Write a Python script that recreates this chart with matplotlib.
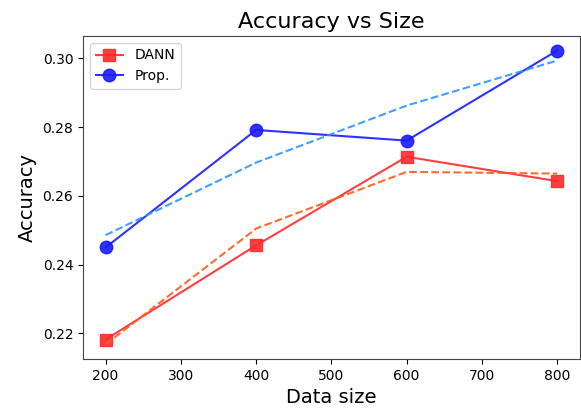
import numpy as np
import matplotlib
matplotlib.use("Agg")
import matplotlib.pyplot as plt

sizes = [200, 400, 600, 800]
dann_acc = [0.2182, 0.2456, 0.2714, 0.2643]
prop_acc = [0.2450, 0.2792, 0.2761, 0.3023]
dann_fit = [0.2168, 0.2505, 0.2670, 0.2665]
prop_fit = [0.2486, 0.2697, 0.2863, 0.2994]

fig = plt.figure(figsize=(5.81, 4.08), dpi=100)
ax = fig.add_axes([0.1429, 0.120, 0.855, 0.792])

ax.plot(sizes, dann_acc, color='#ff2a2a', marker='s', markersize=8, linewidth=1.5,
        alpha=0.9, label='DANN')
ax.plot(sizes, prop_acc, color='#1a1aff', marker='o', markersize=9, linewidth=1.5,
        alpha=0.9, label='Prop.')
ax.plot(sizes, dann_fit, color='#ff5a1a', linestyle='--', linewidth=1.5, alpha=0.9)
ax.plot(sizes, prop_fit, color='#2b95ff', linestyle='--', linewidth=1.5, alpha=0.9)

ax.set_title('Accuracy vs Size', fontsize=16)
ax.set_xlabel('Data size', fontsize=14)
ax.set_ylabel('Accuracy', fontsize=14)
ax.set_yticks([0.22, 0.24, 0.26, 0.28, 0.30])
ax.tick_params(labelsize=10)
for s in ax.spines.values():
    s.set_color('#444444')

ax.legend(loc='upper left', fontsize=10)

fig.savefig('out.png', dpi=100)
